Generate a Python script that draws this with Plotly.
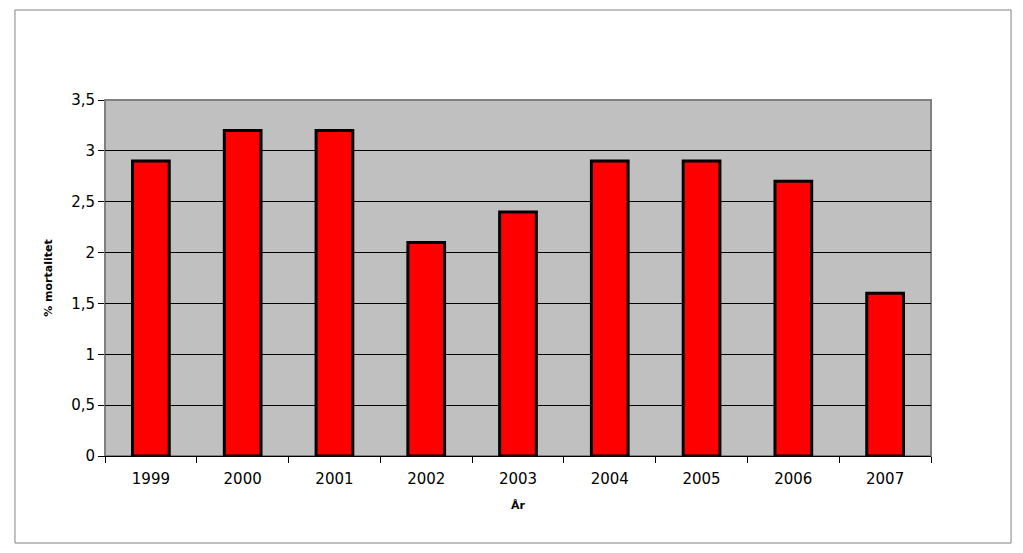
import plotly.graph_objects as go

years = ["1999", "2000", "2001", "2002", "2003", "2004", "2005", "2006", "2007"]
mortality = [2.9, 3.2, 3.2, 2.1, 2.4, 2.9, 2.9, 2.7, 1.6]
y_ticks = [0, 0.5, 1, 1.5, 2, 2.5, 3, 3.5]

fig = go.Figure(go.Bar(
    x=years, y=mortality, width=0.4,
    marker=dict(color="#FF0000", line=dict(color="#000000", width=3)),
))

font = "DejaVu Sans, Verdana, sans-serif"
fig.update_layout(
    width=1015, height=545,
    margin=dict(l=97, r=92, t=92, b=97, autoexpand=False),
    paper_bgcolor="white", plot_bgcolor="#C0C0C0",
    separators=", ",
    showlegend=False,
    font=dict(family=font, color="black", size=13),
    xaxis=dict(
        type="category", showgrid=False, showline=True, linecolor="black", linewidth=1,
        ticks="outside", tickson="boundaries", ticklen=6, tickcolor="black",
        tickfont=dict(size=15), ticklabelstandoff=9,
        title=dict(text="<b>År</b>", font=dict(size=11), standoff=14),
    ),
    yaxis=dict(
        range=[0, 3.5], tickvals=y_ticks, showgrid=True, gridcolor="black", gridwidth=1,
        showline=True, linecolor="#808080", linewidth=1,
        ticks="outside", ticklen=6, tickcolor="black", tickfont=dict(size=15),
        zeroline=False,
        title=dict(text="<b>% mortalitet</b>", font=dict(size=11), standoff=16),
    ),
    shapes=[
        dict(type="rect", xref="paper", yref="paper", x0=0, x1=1, y0=0, y1=1,
             line=dict(color="#808080", width=2), layer="below"),
        dict(type="rect", xref="paper", yref="paper", x0=-0.109, x1=1.0969,
             y0=-0.2444, y1=1.2528, line=dict(color="#808080", width=1)),
    ],
)

fig.write_html("out.html")
